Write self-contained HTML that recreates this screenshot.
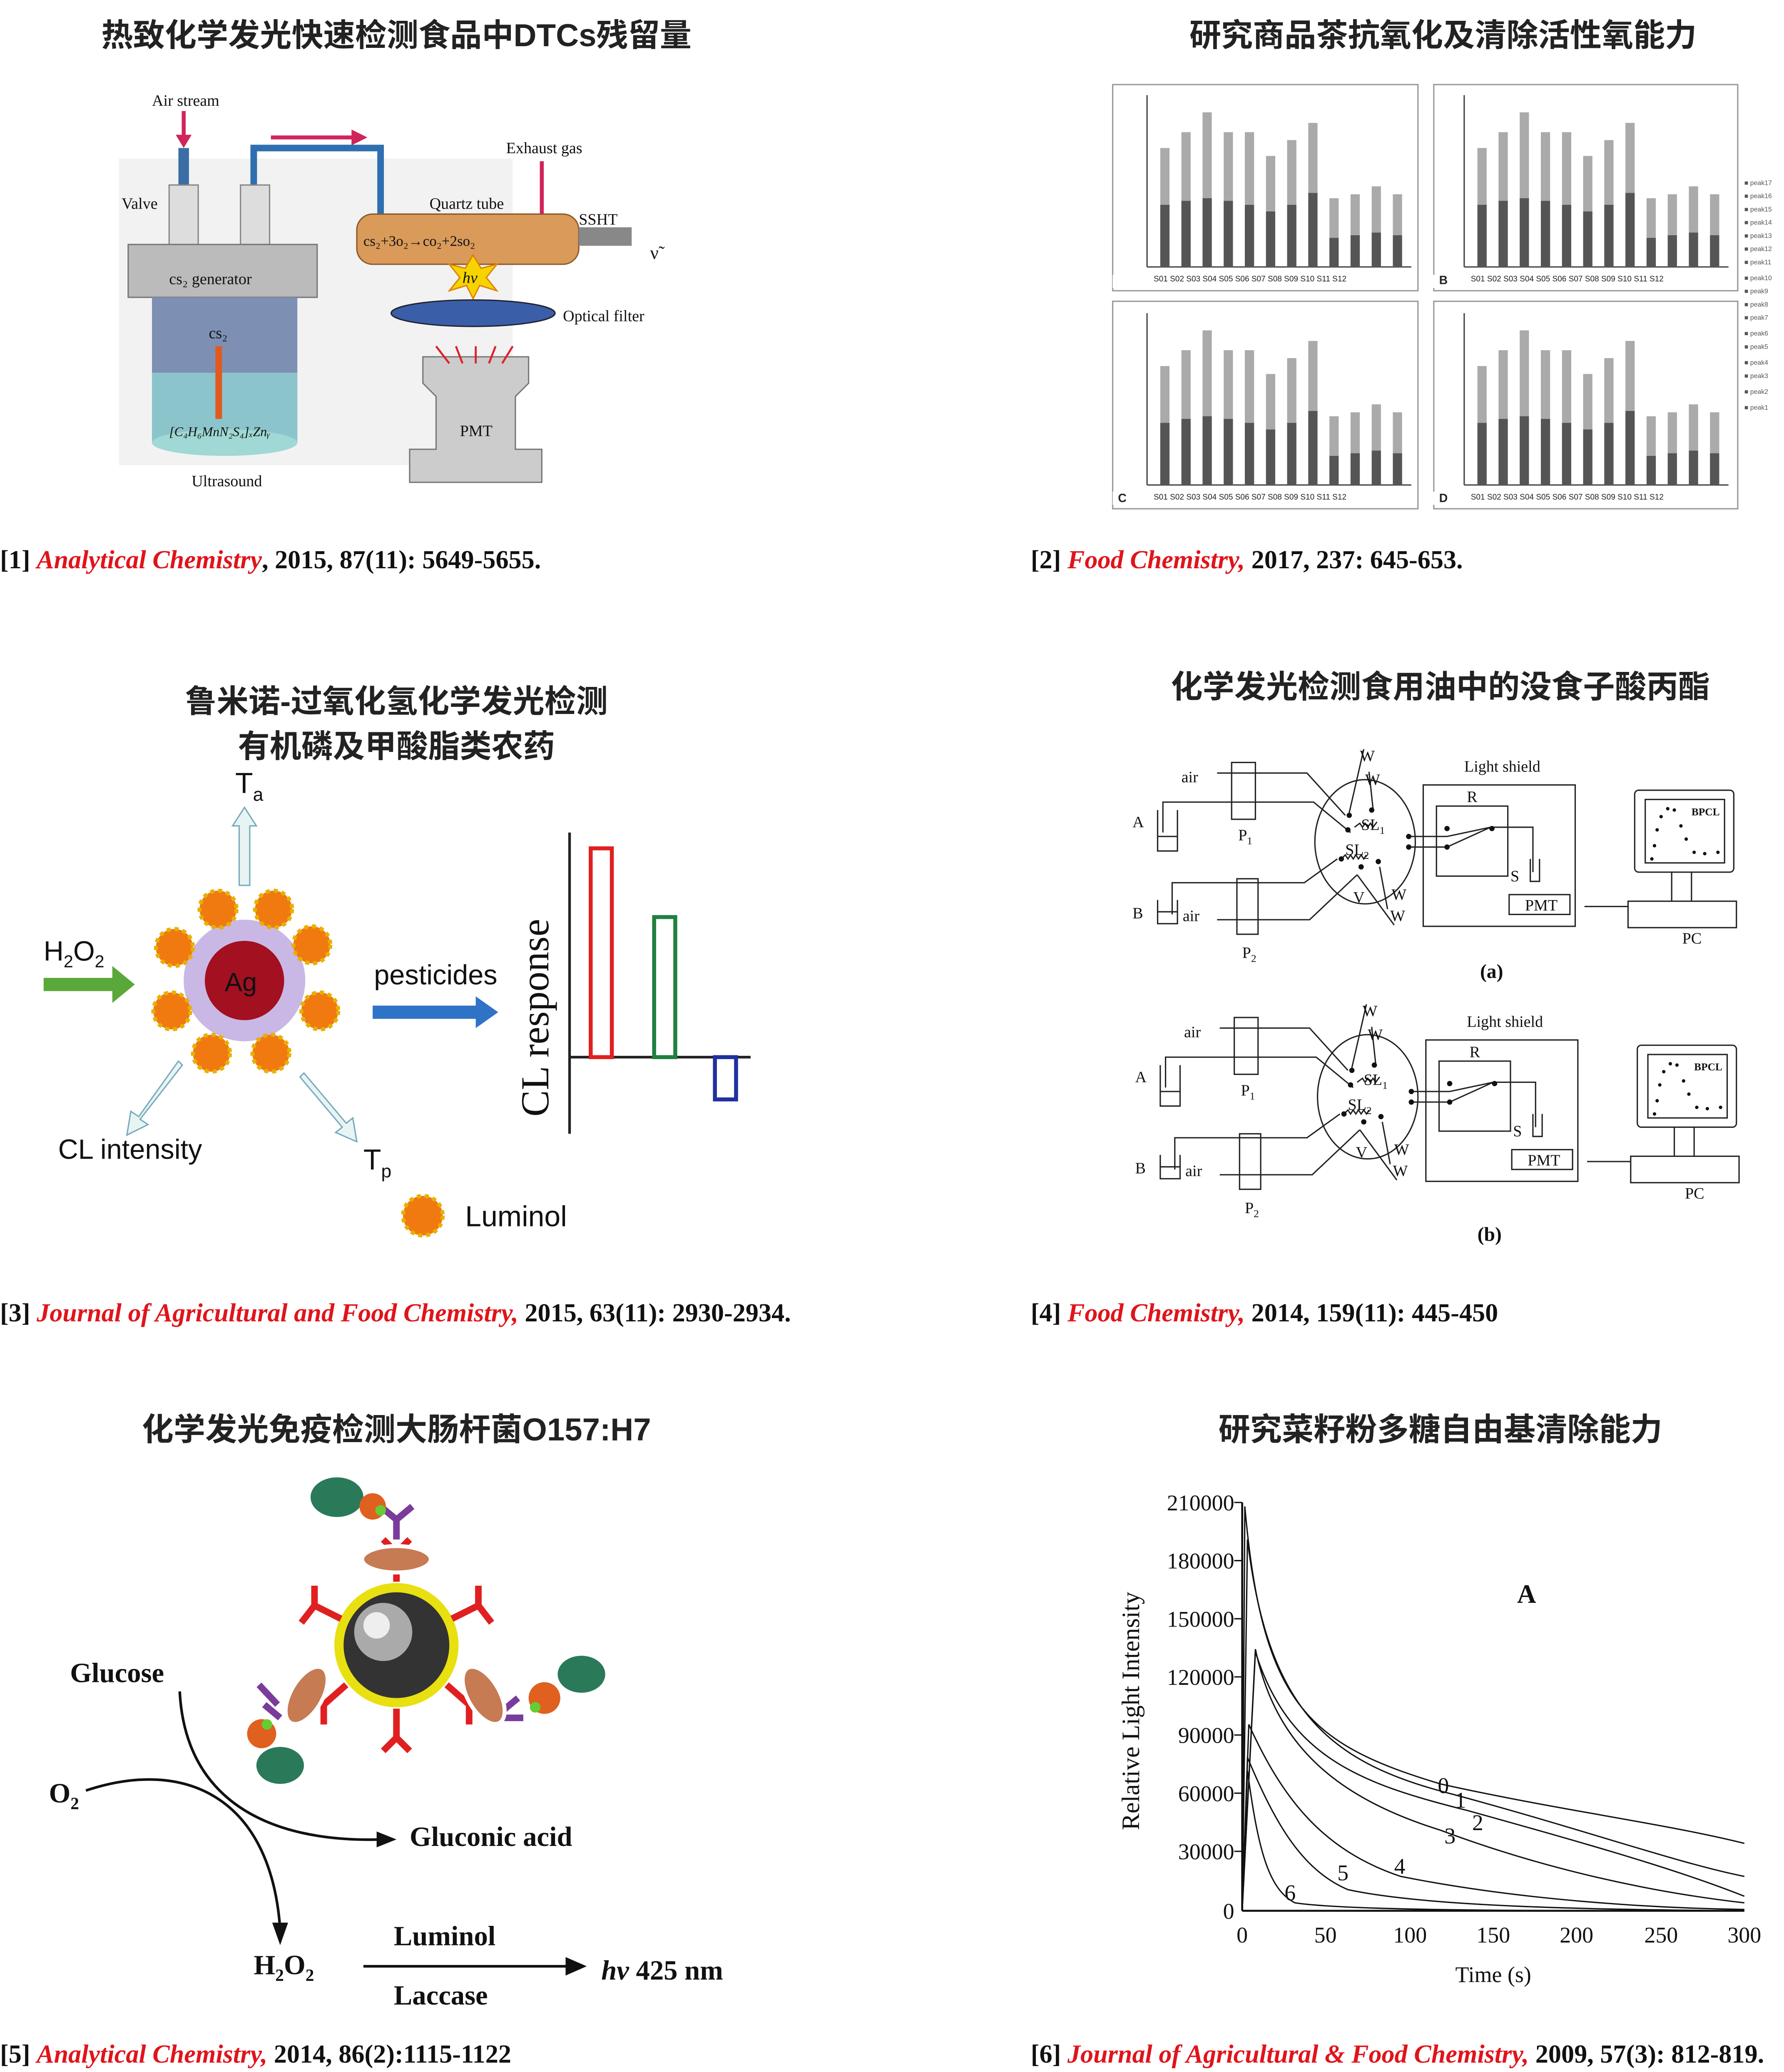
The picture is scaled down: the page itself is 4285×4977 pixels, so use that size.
<!DOCTYPE html>
<html><head><meta charset="utf-8"><style>
html,body{margin:0;padding:0;background:#fff}
svg{display:block}
.t{font-family:"Liberation Sans","Noto Sans CJK SC",sans-serif;font-size:24px;font-weight:bold;fill:#222;text-anchor:middle}
.c{font-family:"Liberation Serif",serif;font-size:19.6px;font-weight:bold;fill:#111}
.j{fill:#e0141b;font-style:italic}
.s{font-family:"Liberation Serif",serif;fill:#111}
.a{font-family:"Liberation Sans",sans-serif;fill:#111}
</style></head><body>
<svg xmlns="http://www.w3.org/2000/svg" width="4285" height="4977" viewBox="0 0 1350 1568">
<rect width="1350" height="1568" fill="#fff"/>
<!-- Titles -->
<text class="t" x="300" y="35">热致化学发光快速检测食品中DTCs残留量</text>
<text class="t" x="1092" y="35">研究商品茶抗氧化及清除活性氧能力</text>
<text class="t" x="300" y="539">鲁米诺-过氧化氢化学发光检测</text>
<text class="t" x="300" y="573">有机磷及甲酸脂类农药</text>
<text class="t" x="1090" y="528">化学发光检测食用油中的没食子酸丙酯</text>
<text class="t" x="300" y="1090">化学发光免疫检测大肠杆菌O157:H7</text>
<text class="t" x="1090" y="1090">研究菜籽粉多糖自由基清除能力</text>
<!-- Captions -->
<text class="c" x="0" y="430">[1] <tspan class="j">Analytical Chemistry</tspan>, 2015, 87(11): 5649-5655.</text>
<text class="c" x="780" y="430">[2] <tspan class="j">Food Chemistry,</tspan> 2017, 237: 645-653.</text>
<text class="c" x="0" y="1000">[3] <tspan class="j">Journal of Agricultural and Food Chemistry,</tspan> 2015, 63(11): 2930-2934.</text>
<text class="c" x="780" y="1000">[4] <tspan class="j">Food Chemistry,</tspan> 2014, 159(11): 445-450</text>
<text class="c" x="0" y="1561">[5] <tspan class="j">Analytical Chemistry,</tspan> 2014, 86(2):1115-1122</text>
<text class="c" x="780" y="1561">[6] <tspan class="j">Journal of Agricultural &amp; Food Chemistry,</tspan> 2009, 57(3): 812-819.</text>

<!-- Panel 1 -->
<g>
<rect x="90" y="120" width="298" height="232" fill="#f2f2f2"/>
<text class="s" x="115" y="80" font-size="12">Air stream</text>
<line x1="139" y1="84" x2="139" y2="106" stroke="#d0245a" stroke-width="3"/>
<polygon points="133,102 145,102 139,112" fill="#d0245a"/>
<line x1="205" y1="104" x2="268" y2="104" stroke="#d0245a" stroke-width="3"/>
<polygon points="266,98 278,104 266,110" fill="#d0245a"/>
<path d="M192,140 V112 H288 V165" fill="none" stroke="#2f6fb0" stroke-width="5"/>
<rect x="135" y="112" width="8" height="30" fill="#3a6ea5"/>
<rect x="128" y="140" width="22" height="45" fill="#ddd" stroke="#888"/>
<rect x="182" y="140" width="22" height="45" fill="#ddd" stroke="#888"/>
<text class="s" x="92" y="158" font-size="12">Valve</text>
<rect x="97" y="185" width="143" height="40" fill="#bbb" stroke="#777"/>
<text class="s" x="128" y="215" font-size="12">cs₂ generator</text>
<rect x="115" y="225" width="110" height="110" fill="#7d8fb3"/>
<rect x="115" y="282" width="110" height="53" fill="#8fd1cf" opacity="0.8"/>
<ellipse cx="170" cy="335" rx="55" ry="10" fill="#9fd8d4"/>
<rect x="163" y="262" width="5" height="55" fill="#e05a20"/>
<text class="s" x="158" y="256" font-size="12">cs₂</text>
<text class="s" x="128" y="330" font-size="10" font-style="italic">[C₄H₆MnN₂S₄]ₓZnᵧ</text>
<text class="s" x="145" y="368" font-size="12">Ultrasound</text>
<rect x="270" y="162" width="168" height="38" rx="12" fill="#d99a5a" stroke="#8a5a2a"/>
<rect x="438" y="172" width="40" height="14" fill="#888"/>
<text class="s" x="275" y="186" font-size="11">cs₂+3o₂→co₂+2so₂</text>
<text class="s" x="325" y="158" font-size="12">Quartz tube</text>
<text class="s" x="383" y="116" font-size="12">Exhaust gas</text>
<line x1="410" y1="122" x2="410" y2="162" stroke="#d0245a" stroke-width="3"/>
<text class="s" x="438" y="170" font-size="12">SSHT</text>
<text class="s" x="492" y="196" font-size="14">ν̃</text>
<polygon points="358,193 364,203 376,200 368,210 376,220 363,216 358,226 353,216 340,220 348,210 340,200 352,203" fill="#f5d400" stroke="#e08000"/>
<text class="s" x="350" y="214" font-size="12" font-style="italic">hv</text>
<ellipse cx="358" cy="237" rx="62" ry="10" fill="#3a5fa8" stroke="#223"/>
<text class="s" x="426" y="243" font-size="12">Optical filter</text>
<path d="M320,270 H400 V290 L390,300 V340 H410 V365 H310 V340 H330 V300 L320,290 Z" fill="#ccc" stroke="#777"/>
<text class="s" x="348" y="330" font-size="12">PMT</text>
<g stroke="#e0202a" stroke-width="1.5"><line x1="330" y1="262" x2="340" y2="275"/><line x1="345" y1="262" x2="350" y2="275"/><line x1="360" y1="262" x2="360" y2="275"/><line x1="375" y1="262" x2="370" y2="275"/><line x1="388" y1="262" x2="380" y2="275"/></g>
</g>

<!-- Panel 2 bar charts -->
<g font-family="Liberation Sans,sans-serif" font-size="6" fill="#222">
<rect x="842" y="64" width="231" height="156" fill="#fff" stroke="#999"/>
<rect x="1085" y="64" width="230" height="156" fill="#fff" stroke="#999"/>
<rect x="842" y="228" width="231" height="157" fill="#fff" stroke="#999"/>
<rect x="1085" y="228" width="230" height="157" fill="#fff" stroke="#999"/>
<g id="A">
<line x1="868" y1="72" x2="868" y2="202" stroke="#444"/><line x1="868" y1="202" x2="1068" y2="202" stroke="#444"/>
<rect x="878" y="112" width="7" height="90" fill="#aaa"/><rect x="878" y="155" width="7" height="47" fill="#555"/>
<rect x="894" y="100" width="7" height="102" fill="#aaa"/><rect x="894" y="152" width="7" height="50" fill="#555"/>
<rect x="910" y="85" width="7" height="117" fill="#aaa"/><rect x="910" y="150" width="7" height="52" fill="#555"/>
<rect x="926" y="100" width="7" height="102" fill="#aaa"/><rect x="926" y="152" width="7" height="50" fill="#555"/>
<rect x="942" y="100" width="7" height="102" fill="#aaa"/><rect x="942" y="155" width="7" height="47" fill="#555"/>
<rect x="958" y="118" width="7" height="84" fill="#aaa"/><rect x="958" y="160" width="7" height="42" fill="#555"/>
<rect x="974" y="106" width="7" height="96" fill="#aaa"/><rect x="974" y="155" width="7" height="47" fill="#555"/>
<rect x="990" y="93" width="7" height="109" fill="#aaa"/><rect x="990" y="146" width="7" height="56" fill="#555"/>
<rect x="1006" y="150" width="7" height="52" fill="#aaa"/><rect x="1006" y="180" width="7" height="22" fill="#555"/>
<rect x="1022" y="147" width="7" height="55" fill="#aaa"/><rect x="1022" y="178" width="7" height="24" fill="#555"/>
<rect x="1038" y="141" width="7" height="61" fill="#aaa"/><rect x="1038" y="176" width="7" height="26" fill="#555"/>
<rect x="1054" y="147" width="7" height="55" fill="#aaa"/><rect x="1054" y="178" width="7" height="24" fill="#555"/>
<text x="845" y="215" font-size="9" font-weight="bold">A</text>
<text x="873" y="213">S01  S02  S03  S04  S05  S06  S07  S08  S09  S10  S11  S12</text>
</g>
<use href="#A" transform="translate(240,0)"/>
<use href="#A" transform="translate(0,165)"/>
<use href="#A" transform="translate(240,165)"/>
<rect x="842" y="208" width="12" height="10" fill="#fff"/><rect x="1083" y="208" width="12" height="10" fill="#fff"/><rect x="842" y="372" width="12" height="10" fill="#fff"/><rect x="1083" y="372" width="12" height="10" fill="#fff"/>
<text x="1089" y="215" font-size="9" font-weight="bold">B</text>
<text x="846" y="380" font-size="9" font-weight="bold">C</text>
<text x="1089" y="380" font-size="9" font-weight="bold">D</text>
<g fill="#555" font-size="5"><text x="1320" y="140">■ peak17</text><text x="1320" y="150">■ peak16</text><text x="1320" y="160">■ peak15</text><text x="1320" y="170">■ peak14</text><text x="1320" y="180">■ peak13</text><text x="1320" y="190">■ peak12</text><text x="1320" y="200">■ peak11</text><text x="1320" y="212">■ peak10</text><text x="1320" y="222">■ peak9</text><text x="1320" y="232">■ peak8</text><text x="1320" y="242">■ peak7</text><text x="1320" y="254">■ peak6</text><text x="1320" y="264">■ peak5</text><text x="1320" y="276">■ peak4</text><text x="1320" y="286">■ peak3</text><text x="1320" y="298">■ peak2</text><text x="1320" y="310">■ peak1</text></g>
</g>

<!-- Panel 3 -->
<g>
<text class="a" x="178" y="600" font-size="22">T<tspan font-size="14" dy="6">a</tspan></text>
<path d="M181,670 V625 h-5 l9,-14 l9,14 h-5 V670 Z" fill="#e8f4f4" stroke="#7ab"/>
<text class="a" x="33" y="727" font-size="21">H<tspan font-size="13" dy="5">2</tspan><tspan dy="-5">O</tspan><tspan font-size="13" dy="5">2</tspan></text>
<path d="M33,740 H85 V731 L102,745 L85,759 V750 H33 Z" fill="#5aa83a"/>
<circle cx="185" cy="742" r="46" fill="#c9b8e6"/>
<circle cx="185" cy="742" r="30" fill="#a31020"/>
<text class="a" x="170" y="750" font-size="20" fill="#333">Ag</text>
<g fill="#f07a10" stroke="#e8b000" stroke-width="3" stroke-dasharray="3 3">
<circle cx="165" cy="688" r="14"/><circle cx="207" cy="688" r="14"/><circle cx="236" cy="715" r="14"/><circle cx="242" cy="765" r="14"/><circle cx="205" cy="797" r="14"/><circle cx="160" cy="797" r="14"/><circle cx="130" cy="765" r="14"/><circle cx="132" cy="717" r="14"/><circle cx="320" cy="920" r="15"/>
</g>
<text class="a" x="283" y="745" font-size="21">pesticides</text>
<path d="M282,761 H360 V754 L377,766 L360,778 V771 H282 Z" fill="#2f73c6"/>
<path d="M135,803 L105,845 l-6,-4 l-3,18 l16,-8 l-6,-4 L138,806 Z" fill="#e8f4f4" stroke="#7ab"/>
<path d="M230,812 L262,850 l5,-4 l3,18 l-16,-7 l5,-4 L227,815 Z" fill="#e8f4f4" stroke="#7ab"/>
<text class="a" x="44" y="877" font-size="21">CL intensity</text>
<text class="a" x="275" y="885" font-size="22">T<tspan font-size="14" dy="6">p</tspan></text>
<text class="a" x="352" y="928" font-size="22">Luminol</text>
<text class="s" x="415" y="845" font-size="30" transform="rotate(-90 415 845)">CL response</text>
<line x1="431" y1="630" x2="431" y2="858" stroke="#222" stroke-width="2"/>
<line x1="431" y1="800" x2="568" y2="800" stroke="#222" stroke-width="2"/>
<rect x="447" y="642" width="16" height="158" fill="#fff" stroke="#e02020" stroke-width="3"/>
<rect x="495" y="694" width="16" height="106" fill="#fff" stroke="#208040" stroke-width="3"/>
<rect x="541" y="800" width="16" height="32" fill="#fff" stroke="#2030a0" stroke-width="3"/>
</g>

<!-- Panel 4 -->
<g id="dg" font-family="Liberation Serif,serif" font-size="12" fill="#111" stroke-width="1">
<g stroke="#222" fill="none">
<rect x="932" y="577" width="18" height="43"/>
<rect x="936" y="665" width="16" height="42"/>
<ellipse cx="1033" cy="637" rx="38" ry="47"/>
<rect x="1077" y="594" width="115" height="107"/>
<rect x="1087" y="610" width="54" height="53"/>
<rect x="1142" y="677" width="46" height="15"/>
<rect x="1237" y="598" width="75" height="62" rx="3"/>
<rect x="1245" y="605" width="60" height="48"/>
<rect x="1232" y="682" width="82" height="20"/>
<line x1="1265" y1="660" x2="1265" y2="682"/><line x1="1280" y1="660" x2="1280" y2="682"/>
<path d="M880,630 V607 H994 L1022,630"/>
<path d="M921,585 H989 L1018,617"/>
<path d="M1066,633 H1095 L1128,626 L1095,641 H1066"/>
<path d="M1128,626 H1160 V660"/>
<path d="M1158,650 V667 H1165 V650"/>
<path d="M1199,686 H1232"/>
<path d="M887,692 V668 H987 L1012,650"/>
<path d="M921,696 H991 L1027,662"/>
<path d="M1027,662 L1055,700 M1044,656 L1050,688 M1021,615 L1032,567 M1039,612 L1036,584"/>
<path d="M876,613 V644 H891 V613 M876,633 H891"/>
<path d="M876,681 V699 H891 V681 M876,690 H891"/>
<path d="M1025,626 l4,-3 l2,3 l2,-3 l2,3 l2,-3 l2,3 l3,-4" />
<path d="M1015,650 l3,-3 l2,3 l2,-3 l2,3 l2,-3 l2,3 l2,-3 l2,3 l2,-3"/>
</g>
<g fill="#111"><circle cx="1021" cy="617" r="2"/><circle cx="1038" cy="613" r="2"/><circle cx="1020" cy="628" r="2"/><circle cx="1066" cy="633" r="2"/><circle cx="1066" cy="641" r="2"/><circle cx="1095" cy="627" r="2"/><circle cx="1095" cy="641" r="2"/><circle cx="1129" cy="627" r="2"/><circle cx="1015" cy="650" r="2"/><circle cx="1030" cy="656" r="2"/><circle cx="1043" cy="652" r="2"/>
<circle cx="1250" cy="650" r="1.3"/><circle cx="1252" cy="640" r="1.3"/><circle cx="1254" cy="628" r="1.3"/><circle cx="1257" cy="618" r="1.3"/><circle cx="1262" cy="612" r="1.3"/><circle cx="1267" cy="613" r="1.3"/><circle cx="1272" cy="625" r="1.3"/><circle cx="1276" cy="635" r="1.3"/><circle cx="1282" cy="645" r="1.3"/><circle cx="1290" cy="646" r="1.3"/><circle cx="1300" cy="645" r="1.3"/></g>
<text x="894" y="592">air</text><text x="857" y="626">A</text><text x="937" y="636">P<tspan font-size="8" dy="3">1</tspan></text>
<text x="1029" y="576">W</text><text x="1033" y="594">W</text><text x="1030" y="628">SL<tspan font-size="8" dy="3">1</tspan></text><text x="1018" y="647">SL<tspan font-size="8" dy="3">2</tspan></text>
<text x="1108" y="584">Light shield</text><text x="1110" y="607">R</text><text x="1143" y="667">S</text><text x="1154" y="689">PMT</text>
<text x="1280" y="617" font-size="8" font-weight="bold">BPCL</text>
<text x="857" y="695">B</text><text x="895" y="697">air</text><text x="940" y="725">P<tspan font-size="8" dy="3">2</tspan></text>
<text x="1024" y="683">V</text><text x="1053" y="681">W</text><text x="1052" y="697">W</text><text x="1273" y="714">PC</text>
<text x="1120" y="740" font-size="15" font-weight="bold">(a)</text>
</g>
<g transform="translate(2,193)">
<use href="#dg"/>
</g>
<rect x="1110" y="920" width="40" height="22" fill="#fff"/>
<text class="s" x="1118" y="939" font-size="15" font-weight="bold">(b)</text>

<!-- Panel 5 -->
<g>
<circle cx="300" cy="1245" r="47" fill="#e8e010"/>
<circle cx="300" cy="1245" r="40" fill="#333"/>
<circle cx="290" cy="1235" r="22" fill="#aaa"/>
<circle cx="285" cy="1230" r="10" fill="#eee"/>
<g stroke="#e02020" stroke-width="5" fill="none">
<path d="M300,1197 V1175 M290,1165 L300,1175 L310,1165"/>
<path d="M300,1293 V1315 M290,1325 L300,1315 L310,1325"/>
<path d="M258,1225 L238,1215 M238,1200 L238,1215 L228,1228"/>
<path d="M342,1225 L362,1215 M362,1200 L362,1215 L372,1228"/>
<path d="M262,1275 L245,1290 M230,1285 L245,1290 L245,1305"/>
<path d="M338,1275 L355,1290 M370,1285 L355,1290 L355,1305"/>
</g>
<g stroke="#7a3c9a" stroke-width="5" fill="none">
<path d="M300,1165 V1150 M288,1140 L300,1150 L312,1140"/>
<path d="M212,1300 L200,1290 M196,1275 L210,1290"/>
<path d="M380,1295 L392,1285 M396,1300 L380,1300"/>
</g>
<ellipse cx="300" cy="1180" rx="26" ry="10" fill="#c67b52" stroke="#fff" stroke-width="3"/>
<ellipse cx="232" cy="1283" rx="12" ry="24" transform="rotate(30 232 1283)" fill="#c67b52" stroke="#fff" stroke-width="3"/>
<ellipse cx="366" cy="1283" rx="12" ry="24" transform="rotate(-30 366 1283)" fill="#c67b52" stroke="#fff" stroke-width="3"/>
<ellipse cx="255" cy="1133" rx="20" ry="15" fill="#2a7a5a"/><circle cx="282" cy="1140" r="10" fill="#e06020"/><circle cx="288" cy="1143" r="4" fill="#6c3"/>
<ellipse cx="440" cy="1267" rx="18" ry="14" fill="#2a7a5a"/><circle cx="412" cy="1285" r="12" fill="#e06020"/><circle cx="405" cy="1292" r="4" fill="#6c3"/>
<ellipse cx="212" cy="1336" rx="18" ry="14" fill="#2a7a5a"/><circle cx="198" cy="1312" r="11" fill="#e06020"/><circle cx="202" cy="1305" r="4" fill="#6c3"/>
<g font-family="Liberation Serif,serif" font-weight="bold" font-size="21" fill="#111">
<text x="53" y="1273">Glucose</text>
<text x="37" y="1364">O<tspan font-size="13" dy="5">2</tspan></text>
<text x="310" y="1397">Gluconic acid</text>
<text x="192" y="1494">H<tspan font-size="13" dy="5">2</tspan><tspan dy="-5">O</tspan><tspan font-size="13" dy="5">2</tspan></text>
<text x="298" y="1472">Luminol</text>
<text x="298" y="1517">Laccase</text>
<text x="455" y="1498" font-style="italic">hv <tspan font-style="normal">425 nm</tspan></text>
</g>
<g stroke="#111" stroke-width="2" fill="none">
<path d="M136,1280 C140,1360 200,1395 290,1392"/>
<path d="M65,1355 C140,1330 205,1360 212,1460"/>
<path d="M275,1488 H430"/>
</g>
<polygon points="285,1386 300,1392 285,1398" fill="#111"/>
<polygon points="206,1455 218,1455 212,1472" fill="#111"/>
<polygon points="428,1481 444,1488 428,1495" fill="#111"/>
</g>

<!-- Panel 6 -->
<g font-family="Liberation Serif,serif" fill="#111">
<line x1="940" y1="1137" x2="940" y2="1446" stroke="#111" stroke-width="1.5"/>
<line x1="940" y1="1446" x2="1320" y2="1446" stroke="#111" stroke-width="1.5"/>
<g font-size="17" text-anchor="end">
<text x="934" y="1143">210000</text><text x="934" y="1187">180000</text><text x="934" y="1231">150000</text><text x="934" y="1275">120000</text><text x="934" y="1319">90000</text><text x="934" y="1363">60000</text><text x="934" y="1407">30000</text><text x="934" y="1452">0</text>
</g>
<g stroke="#111"><line x1="934" y1="1137" x2="940" y2="1137"/><line x1="934" y1="1181" x2="940" y2="1181"/><line x1="934" y1="1225" x2="940" y2="1225"/><line x1="934" y1="1269" x2="940" y2="1269"/><line x1="934" y1="1313" x2="940" y2="1313"/><line x1="934" y1="1357" x2="940" y2="1357"/><line x1="934" y1="1401" x2="940" y2="1401"/></g>
<g font-size="17" text-anchor="middle">
<text x="940" y="1470">0</text><text x="1003" y="1470">50</text><text x="1067" y="1470">100</text><text x="1130" y="1470">150</text><text x="1193" y="1470">200</text><text x="1257" y="1470">250</text><text x="1320" y="1470">300</text>
<text x="1130" y="1500">Time (s)</text>
</g>
<text x="862" y="1385" font-size="19" transform="rotate(-90 862 1385)">Relative Light Intensity</text>
<text x="1148" y="1213" font-size="20" font-weight="bold">A</text>
<g stroke="#111" fill="none" stroke-width="1">
<path d="M940,1446 L942,1140 C955,1290 990,1320 1090,1350 C1180,1370 1260,1380 1320,1395"/>
<path d="M940,1446 L944,1165 C960,1300 1010,1335 1100,1358 C1200,1385 1270,1410 1320,1420"/>
<path d="M940,1446 L950,1250 C975,1330 1030,1350 1110,1370 C1200,1395 1270,1415 1320,1435"/>
<path d="M940,1446 L950,1248 C965,1320 1010,1360 1090,1385 C1170,1415 1250,1432 1320,1440"/>
<path d="M940,1446 L945,1305 C970,1360 1000,1400 1060,1420 C1150,1438 1250,1444 1320,1445"/>
<path d="M940,1446 L944,1330 C965,1380 985,1415 1020,1430 C1080,1443 1200,1445 1320,1446"/>
<path d="M940,1446 L944,1340 C952,1400 960,1430 980,1440 C1020,1446 1150,1446 1320,1446"/>
</g>
<g font-size="17"><text x="1088" y="1357">0</text><text x="1101" y="1368">1</text><text x="1114" y="1385">2</text><text x="1093" y="1395">3</text><text x="1055" y="1418">4</text><text x="1012" y="1423">5</text><text x="972" y="1438">6</text></g>
</g>
</svg>
</body></html>
